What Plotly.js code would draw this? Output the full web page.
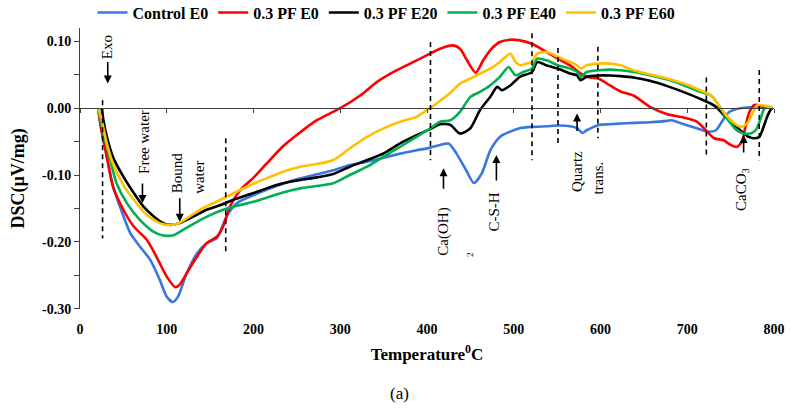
<!DOCTYPE html>
<html>
<head>
<meta charset="utf-8">
<script src="https://cdn.plot.ly/plotly-3.0.1.min.js"></script>
<style>
  body { margin: 0; background: #fff; }
  #chart { width: 795px; height: 414px; }
</style>
</head>
<body>
<div id="chart"></div>
<script>
// ------------------------
// DATA — DSC curves
// ------------------------
var tControl = [21, 24, 31, 38, 46, 58, 69, 81, 92, 100, 107, 113, 123, 135, 146, 158, 169, 181, 200, 215, 234, 254, 273, 292, 311, 331, 350, 369, 388, 404, 415, 425, 434, 446, 454, 463, 473, 484, 496, 507, 521, 538, 551, 565, 573, 579, 584, 598, 611, 623, 638, 657, 677, 682, 696, 711, 723, 733, 740, 748, 761, 777, 788, 798];
var dscControl = [0, -0.028, -0.073, -0.117, -0.147, -0.187, -0.207, -0.227, -0.257, -0.282, -0.290, -0.282, -0.247, -0.217, -0.202, -0.194, -0.162, -0.142, -0.130, -0.122, -0.113, -0.105, -0.099, -0.093, -0.085, -0.080, -0.074, -0.068, -0.063, -0.059, -0.055, -0.053, -0.068, -0.095, -0.112, -0.098, -0.063, -0.043, -0.035, -0.030, -0.028, -0.027, -0.026, -0.027, -0.030, -0.037, -0.033, -0.025, -0.024, -0.023, -0.022, -0.021, -0.019, -0.018, -0.024, -0.030, -0.035, -0.033, -0.020, -0.006, 0.000, 0.0015, 0.002, 0.000];

var tPF0 = [21, 24, 31, 38, 50, 62, 77, 88, 100, 110, 115, 123, 135, 146, 158, 165, 173, 185, 200, 215, 234, 254, 273, 300, 323, 342, 361, 381, 404, 415, 430, 438, 446, 456, 465, 473, 484, 496, 507, 521, 538, 551, 565, 577, 584, 598, 611, 623, 638, 657, 677, 696, 711, 723, 731, 742, 750, 757, 763, 767, 771, 777, 783, 788, 798];
var dscPF0 = [0, -0.028, -0.073, -0.117, -0.152, -0.177, -0.197, -0.222, -0.252, -0.268, -0.264, -0.247, -0.222, -0.202, -0.192, -0.177, -0.147, -0.122, -0.104, -0.083, -0.057, -0.036, -0.018, 0.000, 0.019, 0.039, 0.054, 0.067, 0.082, 0.089, 0.094, 0.089, 0.072, 0.053, 0.072, 0.087, 0.099, 0.1025, 0.1015, 0.0965, 0.084, 0.074, 0.064, 0.052, 0.047, 0.044, 0.034, 0.025, 0.019, 0.002, -0.009, -0.014, -0.020, -0.035, -0.045, -0.048, -0.055, -0.058, -0.050, -0.028, -0.008, 0.0045, 0.0045, 0.002, 0];

var tPF20 = [25, 27, 31, 38, 50, 62, 73, 85, 96, 104, 115, 131, 146, 162, 177, 200, 215, 234, 254, 273, 292, 311, 331, 350, 369, 388, 404, 415, 427, 438, 450, 461, 473, 481, 486, 496, 507, 521, 527, 538, 551, 565, 573, 577, 584, 598, 611, 623, 638, 657, 677, 696, 715, 727, 735, 742, 750, 761, 771, 777, 783, 788, 792, 796, 798];
var dscPF20 = [0, -0.018, -0.043, -0.073, -0.1025, -0.127, -0.147, -0.162, -0.172, -0.1746, -0.172, -0.162, -0.152, -0.145, -0.137, -0.127, -0.120, -0.1124, -0.1075, -0.1035, -0.0985, -0.0876, -0.0776, -0.0677, -0.0527, -0.0403, -0.031, -0.024, -0.025, -0.038, -0.030, -0.003, 0.017, 0.032, 0.027, 0.034, 0.047, 0.054, 0.069, 0.064, 0.059, 0.052, 0.049, 0.042, 0.047, 0.049, 0.049, 0.048, 0.046, 0.041, 0.033, 0.024, 0.014, 0.007, 0, -0.010, -0.020, -0.033, -0.043, -0.045, -0.043, -0.028, -0.013, -0.0025, 0];

var tPF40 = [21, 27, 35, 42, 54, 69, 85, 96, 108, 119, 135, 150, 165, 181, 200, 215, 234, 254, 273, 292, 311, 331, 350, 369, 388, 404, 415, 427, 438, 450, 461, 473, 484, 494, 502, 511, 521, 527, 538, 551, 565, 573, 577, 584, 598, 611, 623, 638, 657, 677, 696, 715, 727, 735, 742, 750, 757, 765, 773, 779, 784, 788, 792, 798];
var dscPF40 = [0, -0.038, -0.078, -0.112, -0.142, -0.167, -0.185, -0.1905, -0.190, -0.182, -0.170, -0.160, -0.152, -0.146, -0.140, -0.134, -0.126, -0.120, -0.1164, -0.1124, -0.100, -0.0876, -0.0726, -0.0577, -0.0428, -0.030, -0.0204, -0.018, -0.0055, 0.0169, 0.0244, 0.0343, 0.0468, 0.0617, 0.0492, 0.0542, 0.0592, 0.0741, 0.0716, 0.0642, 0.0592, 0.0542, 0.0468, 0.0542, 0.0567, 0.0577, 0.0567, 0.0542, 0.0492, 0.0428, 0.0343, 0.0244, 0.0194, 0.007, -0.008, -0.0229, -0.0328, -0.0378, -0.0378, -0.0328, -0.0179, -0.0025, 0.002, 0];

var tPF60 = [21, 25, 31, 38, 50, 62, 77, 92, 100, 112, 123, 138, 162, 185, 200, 215, 234, 254, 273, 292, 311, 331, 350, 369, 388, 400, 411, 427, 438, 450, 461, 473, 484, 496, 502, 507, 515, 521, 527, 538, 551, 565, 573, 577, 584, 598, 611, 623, 638, 657, 677, 696, 715, 727, 735, 742, 750, 757, 763, 769, 775, 781, 786, 792, 798];
var dscPF60 = [0, -0.018, -0.053, -0.083, -0.115, -0.137, -0.160, -0.172, -0.1746, -0.173, -0.165, -0.152, -0.137, -0.122, -0.113, -0.105, -0.095, -0.0876, -0.0836, -0.0776, -0.060, -0.0428, -0.0303, -0.0204, -0.0129, -0.003, 0.007, 0.023, 0.0368, 0.0443, 0.0517, 0.0592, 0.0692, 0.0816, 0.0692, 0.0642, 0.0667, 0.0692, 0.0816, 0.084, 0.0766, 0.0692, 0.0642, 0.0592, 0.0642, 0.0667, 0.0667, 0.0642, 0.0567, 0.0507, 0.0443, 0.0368, 0.0269, 0.0194, 0.007, -0.0055, -0.0179, -0.0254, -0.0279, -0.0229, -0.008, 0.0045, 0.0045, 0.003, 0];

var seriesNames = ["Control E0", "0.3 PF E0", "0.3 PF E20", "0.3 PF E40", "0.3 PF E60"];
var xTicks = [0, 100, 200, 300, 400, 500, 600, 700, 800];
var yTickVals = [0.10, 0.05, 0.00, -0.05, -0.10, -0.15, -0.20, -0.25, -0.30];
var yTickText = ["0.10", "", "0.00", "", "-0.10", "", "-0.20", "", "-0.30"];

// dashed markers for the decomposition steps (temperature, top, bottom)
var dashT = [26, 168, 404, 521, 551, 597, 722, 783];
var dashTop = [0.012, -0.045, 0.099, 0.112, 0.090, 0.092, 0.046, 0.057];
var dashBottom = [-0.195, -0.214, -0.078, -0.078, -0.054, -0.045, -0.073, -0.078];

var colors = ["#3a76e0", "#ff0000", "#000000", "#00b050", "#ffc000"];
var serif = "Liberation Serif, Times New Roman, serif";

var xs = [tControl, tPF0, tPF20, tPF40, tPF60];
var ys = [dscControl, dscPF0, dscPF20, dscPF40, dscPF60];

var traces = seriesNames.map(function (n, i) {
  return {
    x: xs[i], y: ys[i], name: n,
    type: "scatter", mode: "lines",
    line: { color: colors[i], width: 2.6, shape: "spline", smoothing: 0.7 },
    hoverinfo: "skip"
  };
});
// empty trace so the labelled bottom axis gets drawn
traces.push({ x: [], y: [], xaxis: "x2", showlegend: false, hoverinfo: "skip" });

var shapes = dashT.map(function (t, i) {
  return {
    type: "line", xref: "x", yref: "y",
    x0: t, x1: t, y0: dashTop[i], y1: dashBottom[i],
    line: { color: "#000", width: 1.6, dash: "5px,4px" }
  };
});

var labelFont = { family: serif, size: 15, color: "#000" };
function label(x, y, text) {
  return { x: x, y: y, xref: "x", yref: "y", text: text, textangle: -90,
           showarrow: false, font: labelFont };
}
function arrow(x, y, ay) {
  return { x: x, y: y, xref: "x", yref: "y", text: "", showarrow: true,
           ax: 0, ay: ay, arrowhead: 2, arrowsize: 1, arrowwidth: 1.6, arrowcolor: "#000" };
}

var annotations = [
  label(32, 0.091, "Exo"), arrow(32, 0.037, -23),
  label(73, -0.050, "Free water"), arrow(72, -0.142, -21),
  label(112, -0.097, "Bound"), label(137, -0.103, "water"), arrow(115, -0.170, -25),
  label(419, -0.184, "Ca(OH)"), arrow(419, -0.090, 22),
  { x: 449, y: -0.219, xref: "x", yref: "y", text: "2", textangle: -90, showarrow: false,
    font: { family: serif, size: 9, color: "#000" } },
  label(477, -0.155, "C-S-H"), arrow(480, -0.070, 27),
  label(573, -0.0955, "Quartz"), label(597, -0.104, "trans."), arrow(573, -0.008, 19),
  label(763, -0.121, "CaCO<sub>3</sub>"), arrow(765, -0.040, 19),
  // y axis title, placed by hand to sit where the reference has it
  { x: -0.089, y: 0.465, xref: "paper", yref: "paper", xanchor: "center", yanchor: "middle",
    text: "DSC(µV/mg)", textangle: -90, showarrow: false,
    font: { family: serif, size: 18, color: "#000", weight: "bold" } },
  { x: 0.461, y: -0.30, xref: "paper", yref: "paper", yanchor: "middle", text: "(a)", showarrow: false,
    font: { family: serif, size: 17, color: "#000" } }
];

var layout = {
  width: 795, height: 414,
  margin: { l: 80, r: 21, t: 28, b: 105, autoexpand: false },
  paper_bgcolor: "#fff", plot_bgcolor: "#fff",
  font: { family: serif, color: "#000" },
  showlegend: true,
  legend: {
    orientation: "h", x: 0.018, xanchor: "left", y: 1.055, yanchor: "middle",
    font: { family: serif, size: 16, color: "#000", weight: "bold" },
    bgcolor: "rgba(0,0,0,0)", itemwidth: 30
  },
  xaxis: {
    range: [0, 800], anchor: "free", position: 0.3 / 0.42,
    showline: true, linecolor: "#404040", linewidth: 1,
    tickmode: "array", tickvals: xTicks, ticks: "outside", ticklen: 4, tickcolor: "#404040",
    showticklabels: false, showgrid: false, zeroline: false
  },
  xaxis2: {
    overlaying: "x", matches: "x", anchor: "y", side: "bottom",
    showline: false, showgrid: false, zeroline: false,
    tickmode: "array", tickvals: xTicks, ticks: "outside", ticklen: 7, tickcolor: "rgba(0,0,0,0)",
    tickfont: { family: serif, size: 14, color: "#000", weight: "bold" },
    title: { text: "Temperature<sup>0</sup>C", standoff: 12,
             font: { family: serif, size: 17, color: "#000", weight: "bold" } }
  },
  yaxis: {
    range: [-0.3005, 0.12],
    showline: true, linecolor: "#404040", linewidth: 1,
    tickmode: "array", tickvals: yTickVals, ticktext: yTickText,
    ticks: "outside", ticklen: 5, tickcolor: "#404040",
    tickfont: { family: serif, size: 14, color: "#000", weight: "bold" },
    showgrid: false, zeroline: false
  },
  shapes: shapes,
  annotations: annotations
};

Plotly.newPlot("chart", traces, layout, { staticPlot: true, displayModeBar: false });
</script>
</body>
</html>
